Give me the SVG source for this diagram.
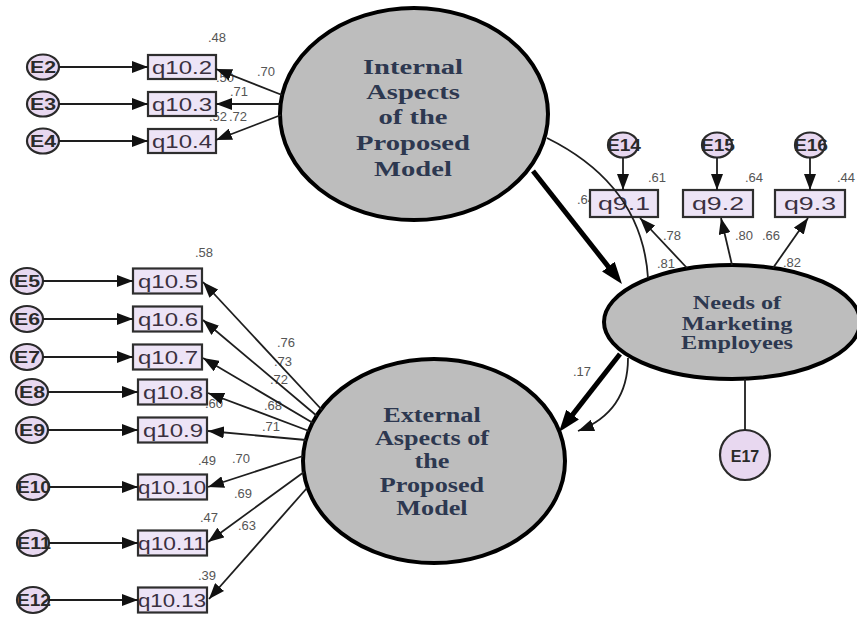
<svg xmlns="http://www.w3.org/2000/svg" width="857" height="617" viewBox="0 0 857 617">
<style>
.lat{fill:#bdbdbd;stroke:#000;stroke-width:4}
.lt{font-family:"Liberation Serif","Times New Roman",serif;font-weight:bold;fill:#2d3850;text-anchor:middle}
.err{fill:#e8d8f0;stroke:#2a2a2a;stroke-width:2.2}
.et{font-family:"Liberation Sans",Arial,sans-serif;font-weight:bold;font-size:16px;fill:#2a2a2a}
.box{fill:#ede4f6;stroke:#2e2e2e;stroke-width:2.2}
.bt{font-family:"Liberation Sans",Arial,sans-serif;font-size:18px;fill:#3a3040}
.ln{stroke:#1e1e1e;stroke-width:1.8;fill:none}
.tk{stroke:#000;stroke-width:5;fill:none}
.lb{font-family:"Liberation Sans",Arial,sans-serif;font-size:13px;fill:#555}
</style>
<defs>
<marker id="ah" viewBox="0 0 16 12" refX="16" refY="6" markerWidth="16" markerHeight="12" markerUnits="userSpaceOnUse" orient="auto"><path d="M0,0 L16,6 L0,12 z" fill="#111"/></marker>
<marker id="ahb" viewBox="0 0 22 16" refX="12" refY="8" markerWidth="22" markerHeight="16" markerUnits="userSpaceOnUse" orient="auto"><path d="M0,0 L22,8 L0,16 z" fill="#000"/></marker>
</defs>
<rect width="857" height="617" fill="#fff"/>

<g id="labels" class="lb">
<text x="208" y="42">.48</text>
<text x="257" y="76">.70</text>
<text x="216" y="82">.50</text>
<text x="230" y="96">.71</text>
<text x="209" y="121">.52</text>
<text x="229" y="121">.72</text>
<text x="195" y="257">.58</text>
<text x="277" y="347">.76</text>
<text x="274" y="366">.73</text>
<text x="270" y="384">.72</text>
<text x="205" y="408">.60</text>
<text x="264" y="410">.68</text>
<text x="262" y="431">.71</text>
<text x="198" y="465">.49</text>
<text x="232" y="463">.70</text>
<text x="234" y="498">.69</text>
<text x="200" y="522">.47</text>
<text x="238" y="530">.63</text>
<text x="198" y="580">.39</text>
<text x="648" y="182">.61</text>
<text x="745" y="182">.64</text>
<text x="837" y="182">.44</text>
<text x="577" y="204">.64</text>
<text x="663" y="240">.78</text>
<text x="735" y="240">.80</text>
<text x="762" y="240">.66</text>
<text x="657" y="268">.81</text>
<text x="783" y="267">.82</text>
<text x="573" y="376">.17</text>
</g>

<g id="internal">
<ellipse class="lat" cx="414" cy="114" rx="134" ry="106"/>
<text class="lt" font-size="22" transform="translate(413,0) scale(1.3,1)"><tspan x="0" y="74">Internal</tspan><tspan x="0" y="99">Aspects</tspan><tspan x="0" y="124">of the</tspan><tspan x="0" y="150">Proposed</tspan><tspan x="0" y="176">Model</tspan></text>
</g>
<g id="external">
<ellipse class="lat" cx="434" cy="461" rx="131" ry="102"/>
<text class="lt" font-size="20" transform="translate(432,0) scale(1.31,1)"><tspan x="0" y="422">External</tspan><tspan x="0" y="445">Aspects of</tspan><tspan x="0" y="468">the</tspan><tspan x="0" y="492">Proposed</tspan><tspan x="0" y="515">Model</tspan></text>
</g>
<g id="needs">
<ellipse class="lat" cx="732" cy="322" rx="128" ry="57"/>
<text class="lt" font-size="18" transform="translate(737,0) scale(1.35,1)"><tspan x="0" y="309">Needs of</tspan><tspan x="0" y="330">Marketing</tspan><tspan x="0" y="349">Employees</tspan></text>
</g>

<g id="q10_2"><rect class="box" x="148" y="55" width="68" height="24"/><text class="bt" x="152" y="73.5" textLength="60" lengthAdjust="spacingAndGlyphs">q10.2</text></g>
<g id="q10_3"><rect class="box" x="148" y="92" width="68" height="24"/><text class="bt" x="152" y="110.5" textLength="60" lengthAdjust="spacingAndGlyphs">q10.3</text></g>
<g id="q10_4"><rect class="box" x="148" y="129" width="68" height="24"/><text class="bt" x="152" y="147.5" textLength="60" lengthAdjust="spacingAndGlyphs">q10.4</text></g>
<g id="q10_5"><rect class="box" x="133" y="268.5" width="69" height="25"/><text class="bt" x="138" y="287.5" textLength="60" lengthAdjust="spacingAndGlyphs">q10.5</text></g>
<g id="q10_6"><rect class="box" x="133" y="306.5" width="69" height="25"/><text class="bt" x="138" y="325.5" textLength="60" lengthAdjust="spacingAndGlyphs">q10.6</text></g>
<g id="q10_7"><rect class="box" x="133" y="344.5" width="69" height="25"/><text class="bt" x="138" y="363.5" textLength="60" lengthAdjust="spacingAndGlyphs">q10.7</text></g>
<g id="q10_8"><rect class="box" x="138" y="379.5" width="69" height="25"/><text class="bt" x="143" y="398.5" textLength="60" lengthAdjust="spacingAndGlyphs">q10.8</text></g>
<g id="q10_9"><rect class="box" x="138" y="417.5" width="69" height="25"/><text class="bt" x="143" y="436.5" textLength="60" lengthAdjust="spacingAndGlyphs">q10.9</text></g>
<g id="q10_10"><rect class="box" x="138" y="474.5" width="69" height="25"/><text class="bt" x="138" y="493.5" textLength="68" lengthAdjust="spacingAndGlyphs">q10.10</text></g>
<g id="q10_11"><rect class="box" x="138" y="530.5" width="69" height="25"/><text class="bt" x="138" y="549.5" textLength="68" lengthAdjust="spacingAndGlyphs">q10.11</text></g>
<g id="q10_13"><rect class="box" x="138" y="587.5" width="69" height="25"/><text class="bt" x="138" y="606.5" textLength="68" lengthAdjust="spacingAndGlyphs">q10.13</text></g>
<g id="q9_1"><rect class="box" x="590" y="190" width="68" height="27"/><text class="bt" x="598" y="210" textLength="52" lengthAdjust="spacingAndGlyphs">q9.1</text></g>
<g id="q9_2"><rect class="box" x="683" y="190" width="70" height="27"/><text class="bt" x="692" y="210" textLength="52" lengthAdjust="spacingAndGlyphs">q9.2</text></g>
<g id="q9_3"><rect class="box" x="775" y="190" width="70" height="27"/><text class="bt" x="784" y="210" textLength="52" lengthAdjust="spacingAndGlyphs">q9.3</text></g>

<g id="E2"><ellipse class="err" cx="43" cy="67" rx="16" ry="12.5"/><text class="et" x="30" y="73" textLength="26" lengthAdjust="spacingAndGlyphs">E2</text></g>
<g id="E3"><ellipse class="err" cx="43" cy="104" rx="16" ry="12.5"/><text class="et" x="30" y="110" textLength="26" lengthAdjust="spacingAndGlyphs">E3</text></g>
<g id="E4"><ellipse class="err" cx="43" cy="141" rx="16" ry="12.5"/><text class="et" x="30" y="147" textLength="26" lengthAdjust="spacingAndGlyphs">E4</text></g>
<g id="E5"><ellipse class="err" cx="27" cy="281" rx="16" ry="13"/><text class="et" x="14" y="287" textLength="26" lengthAdjust="spacingAndGlyphs">E5</text></g>
<g id="E6"><ellipse class="err" cx="27" cy="319" rx="16" ry="13"/><text class="et" x="14" y="325" textLength="26" lengthAdjust="spacingAndGlyphs">E6</text></g>
<g id="E7"><ellipse class="err" cx="27" cy="357" rx="16" ry="13"/><text class="et" x="14" y="363" textLength="26" lengthAdjust="spacingAndGlyphs">E7</text></g>
<g id="E8"><ellipse class="err" cx="32" cy="392" rx="16" ry="13"/><text class="et" x="19" y="398" textLength="26" lengthAdjust="spacingAndGlyphs">E8</text></g>
<g id="E9"><ellipse class="err" cx="32" cy="430" rx="16" ry="13"/><text class="et" x="19" y="436" textLength="26" lengthAdjust="spacingAndGlyphs">E9</text></g>
<g id="E10"><ellipse class="err" cx="33" cy="487" rx="16" ry="13"/><text class="et" x="17" y="493" textLength="34" lengthAdjust="spacingAndGlyphs">E10</text></g>
<g id="E11"><ellipse class="err" cx="33" cy="543" rx="16" ry="13"/><text class="et" x="17" y="549" textLength="34" lengthAdjust="spacingAndGlyphs">E11</text></g>
<g id="E12"><ellipse class="err" cx="33" cy="600" rx="16" ry="13"/><text class="et" x="17" y="606" textLength="34" lengthAdjust="spacingAndGlyphs">E12</text></g>
<g id="E14"><ellipse class="err" cx="623" cy="145" rx="15" ry="12.5"/><text class="et" x="607" y="151" textLength="34" lengthAdjust="spacingAndGlyphs">E14</text></g>
<g id="E15"><ellipse class="err" cx="717" cy="145" rx="15" ry="12.5"/><text class="et" x="701" y="151" textLength="34" lengthAdjust="spacingAndGlyphs">E15</text></g>
<g id="E16"><ellipse class="err" cx="810" cy="145" rx="15" ry="12.5"/><text class="et" x="794" y="151" textLength="34" lengthAdjust="spacingAndGlyphs">E16</text></g>
<g id="E17"><circle class="err" cx="745" cy="455" r="25"/><text class="et" x="745" y="462" font-size="19" text-anchor="middle">E17</text></g>

<g id="connectors">
<line class="ln" x1="59" y1="67" x2="148" y2="67" marker-end="url(#ah)"/>
<line class="ln" x1="59" y1="104" x2="148" y2="104" marker-end="url(#ah)"/>
<line class="ln" x1="59" y1="141" x2="148" y2="141" marker-end="url(#ah)"/>
<line class="ln" x1="43" y1="281" x2="133" y2="281" marker-end="url(#ah)"/>
<line class="ln" x1="43" y1="319" x2="133" y2="319" marker-end="url(#ah)"/>
<line class="ln" x1="43" y1="357" x2="133" y2="357" marker-end="url(#ah)"/>
<line class="ln" x1="48" y1="392" x2="138" y2="392" marker-end="url(#ah)"/>
<line class="ln" x1="48" y1="430" x2="138" y2="430" marker-end="url(#ah)"/>
<line class="ln" x1="49" y1="487" x2="138" y2="487" marker-end="url(#ah)"/>
<line class="ln" x1="49" y1="543" x2="138" y2="543" marker-end="url(#ah)"/>
<line class="ln" x1="49" y1="600" x2="138" y2="600" marker-end="url(#ah)"/>
<line class="ln" x1="623" y1="158" x2="623" y2="190" marker-end="url(#ah)"/>
<line class="ln" x1="717" y1="158" x2="717" y2="190" marker-end="url(#ah)"/>
<line class="ln" x1="810" y1="158" x2="810" y2="190" marker-end="url(#ah)"/>

<line class="ln" x1="282" y1="95" x2="216" y2="69" marker-end="url(#ah)"/>
<line class="ln" x1="280" y1="104" x2="216" y2="104" marker-end="url(#ah)"/>
<line class="ln" x1="281" y1="115" x2="216" y2="140" marker-end="url(#ah)"/>

<line class="ln" x1="322" y1="410" x2="203" y2="282" marker-end="url(#ah)"/>
<line class="ln" x1="317" y1="416" x2="203" y2="320" marker-end="url(#ah)"/>
<line class="ln" x1="313" y1="423" x2="203" y2="358" marker-end="url(#ah)"/>
<line class="ln" x1="309" y1="431" x2="208" y2="393" marker-end="url(#ah)"/>
<line class="ln" x1="306" y1="440" x2="208" y2="431" marker-end="url(#ah)"/>
<line class="ln" x1="303" y1="456" x2="208" y2="487" marker-end="url(#ah)"/>
<line class="ln" x1="304" y1="472" x2="208" y2="542" marker-end="url(#ah)"/>
<line class="ln" x1="307" y1="488" x2="209" y2="599" marker-end="url(#ah)"/>

<line class="ln" x1="687" y1="268" x2="640" y2="218" marker-end="url(#ah)"/>
<line class="ln" x1="732" y1="265" x2="721" y2="218" marker-end="url(#ah)"/>
<line class="ln" x1="773" y1="268" x2="808" y2="218" marker-end="url(#ah)"/>

<line class="ln" x1="745" y1="379" x2="745" y2="430"/>

<path class="ln" d="M547,138 Q642,185 648,278"/>
<path class="ln" d="M628,358 Q628,412 578,431" marker-end="url(#ah)"/>
<line class="tk" x1="533" y1="171" x2="615.8" y2="276.1" marker-end="url(#ahb)"/>
<line class="tk" x1="620" y1="354" x2="565.2" y2="424.1" marker-end="url(#ahb)"/>
</g>
</svg>
